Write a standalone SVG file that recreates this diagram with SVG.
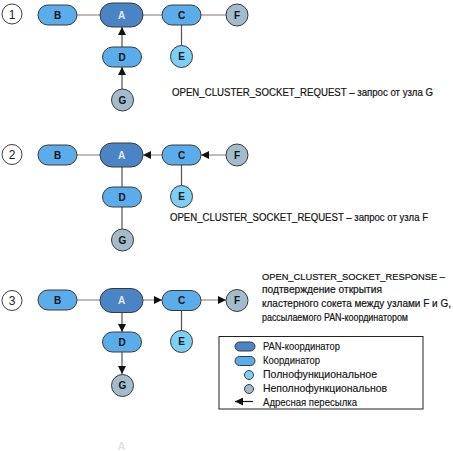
<svg xmlns="http://www.w3.org/2000/svg" width="453" height="451" viewBox="0 0 453 451">
<style>
.pan{fill:#4a84c4;stroke:#3a3a3a;stroke-width:1}
.crd{fill:#5aacea;stroke:#3a3a3a;stroke-width:1}
.ffd{fill:#7dd0f5;stroke:#3a3a3a;stroke-width:1}
.rfd{fill:#a2bccb;stroke:#3a3a3a;stroke-width:1}
.num{fill:#fff;stroke:#4a3a3a;stroke-width:1}
.lbl{font-family:"Liberation Sans",Arial,sans-serif;font-size:10px;font-weight:bold;fill:#141414;text-anchor:middle}
.lblw{font-family:"Liberation Sans",Arial,sans-serif;font-size:10px;font-weight:bold;fill:#e6e6f0;text-anchor:middle}
.nt{font-family:"Liberation Sans",Arial,sans-serif;font-size:12px;fill:#222;text-anchor:middle}
.txt{font-family:"Liberation Sans",Arial,sans-serif;font-size:10px;fill:#141414;stroke:#141414;stroke-width:0.2}
.lg{font-family:"Liberation Sans",Arial,sans-serif;font-size:11px;fill:#141414;stroke:#141414;stroke-width:0.15}
.h{stroke:#9a8a8a;stroke-width:1.2;fill:none}
.v{stroke:#5e4c4c;stroke-width:1.2;fill:none}
.arr{marker-end:url(#ah)}
</style>
<defs>
<marker id="ah" markerUnits="userSpaceOnUse" markerWidth="8" markerHeight="8" refX="8" refY="4" orient="auto" viewBox="0 0 8 8">
<path d="M0,0 L8,4 L0,8 z" fill="#111"/>
</marker>
</defs>

<g id="connectors">
<!-- panel 1 -->
<line class="h" x1="77" y1="15" x2="100" y2="15"/>
<line class="h" x1="143" y1="15" x2="162" y2="15"/>
<line class="h" x1="201" y1="15" x2="226" y2="15"/>
<line class="v" x1="181.5" y1="25" x2="181.5" y2="45.5"/>
<line class="v arr" x1="122" y1="47" x2="122" y2="27"/>
<line class="v arr" x1="122" y1="89" x2="122" y2="67"/>
<!-- panel 2 -->
<line class="h" x1="77" y1="155" x2="100" y2="155"/>
<line class="h arr" x1="162" y1="155" x2="143" y2="155"/>
<line class="h arr" x1="226" y1="155" x2="201" y2="155"/>
<line class="v" x1="181.5" y1="165" x2="181.5" y2="185.5"/>
<line class="v" x1="122" y1="167" x2="122" y2="187"/>
<line class="v" x1="122" y1="207" x2="122" y2="229"/>
<!-- panel 3 -->
<line class="h" x1="77" y1="300" x2="100" y2="300"/>
<line class="h arr" x1="143" y1="300" x2="162" y2="300"/>
<line class="h arr" x1="201" y1="300" x2="226" y2="300"/>
<line class="v" x1="181.5" y1="310" x2="181.5" y2="330.5"/>
<line class="v arr" x1="122" y1="312" x2="122" y2="332"/>
<line class="v arr" x1="122" y1="352" x2="122" y2="374"/>
</g>

<!-- panel 1 -->
<g id="n1"><circle class="num" cx="12" cy="14" r="10"/><text class="nt" x="12" y="18.5">1</text></g>
<g id="p1-B"><rect class="crd" x="38" y="5" width="39" height="20" rx="10"/><text class="lbl" x="57.5" y="18.6">B</text></g>
<g id="p1-A"><rect class="pan" x="100" y="3" width="43" height="24" rx="12"/><text class="lblw" x="121.5" y="18.6">A</text></g>
<g id="p1-C"><rect class="crd" x="162" y="5" width="39" height="20" rx="10"/><text class="lbl" x="181.5" y="18.6">C</text></g>
<g id="p1-F"><circle class="rfd" cx="237" cy="15" r="11"/><text class="lbl" x="237" y="18.6">F</text></g>
<g id="p1-E"><circle class="ffd" cx="181.5" cy="56.5" r="11"/><text class="lbl" x="181.5" y="60.1">E</text></g>
<g id="p1-D"><rect class="crd" x="102.5" y="47" width="39" height="20" rx="10"/><text class="lbl" x="122" y="60.6">D</text></g>
<g id="p1-G"><circle class="rfd" cx="122.5" cy="100" r="11"/><text class="lbl" x="122.5" y="103.6">G</text></g>
<text class="txt" x="172" y="96" textLength="261" lengthAdjust="spacingAndGlyphs">OPEN_CLUSTER_SOCKET_REQUEST – запрос от узла G</text>

<!-- panel 2 -->
<g id="n2"><circle class="num" cx="12" cy="154.5" r="10"/><text class="nt" x="12" y="159">2</text></g>
<g id="p2-B"><rect class="crd" x="38" y="145" width="39" height="20" rx="10"/><text class="lbl" x="57.5" y="158.6">B</text></g>
<g id="p2-A"><rect class="pan" x="100" y="143" width="43" height="24" rx="12"/><text class="lblw" x="121.5" y="158.6">A</text></g>
<g id="p2-C"><rect class="crd" x="162" y="145" width="39" height="20" rx="10"/><text class="lbl" x="181.5" y="158.6">C</text></g>
<g id="p2-F"><circle class="rfd" cx="237" cy="155" r="11"/><text class="lbl" x="237" y="158.6">F</text></g>
<g id="p2-E"><circle class="ffd" cx="181.5" cy="196.5" r="11"/><text class="lbl" x="181.5" y="200.1">E</text></g>
<g id="p2-D"><rect class="crd" x="102.5" y="187" width="39" height="20" rx="10"/><text class="lbl" x="122" y="200.6">D</text></g>
<g id="p2-G"><circle class="rfd" cx="122.5" cy="240" r="11"/><text class="lbl" x="122.5" y="243.6">G</text></g>
<text class="txt" x="170" y="221" textLength="258" lengthAdjust="spacingAndGlyphs">OPEN_CLUSTER_SOCKET_REQUEST – запрос от узла F</text>

<!-- panel 3 -->
<g id="n3"><circle class="num" cx="12" cy="300.5" r="10"/><text class="nt" x="12" y="305">3</text></g>
<g id="p3-B"><rect class="crd" x="38" y="290" width="39" height="20" rx="10"/><text class="lbl" x="57.5" y="303.6">B</text></g>
<g id="p3-A"><rect class="pan" x="100" y="288.5" width="43" height="24" rx="12"/><text class="lblw" x="121.5" y="304.1">A</text></g>
<g id="p3-C"><rect class="crd" x="162" y="290.5" width="39" height="20" rx="10"/><text class="lbl" x="181.5" y="304.1">C</text></g>
<g id="p3-F"><circle class="rfd" cx="237" cy="300.5" r="11"/><text class="lbl" x="237" y="304.1">F</text></g>
<g id="p3-E"><circle class="ffd" cx="181.5" cy="341.5" r="11"/><text class="lbl" x="181.5" y="345.1">E</text></g>
<g id="p3-D"><rect class="crd" x="102.5" y="332" width="39" height="20" rx="10"/><text class="lbl" x="122" y="345.6">D</text></g>
<g id="p3-G"><circle class="rfd" cx="122.5" cy="385.5" r="11"/><text class="lbl" x="122.5" y="389.1">G</text></g>
<text class="txt" x="262" y="279.5" font-size="9.3" style="font-size:9.3px" textLength="183" lengthAdjust="spacingAndGlyphs">OPEN_CLUSTER_SOCKET_RESPONSE –</text>
<text class="txt" x="262" y="293.3" textLength="120" lengthAdjust="spacingAndGlyphs">подтверждение открытия</text>
<text class="txt" x="262" y="307.1" textLength="189" lengthAdjust="spacingAndGlyphs">кластерного сокета между узлами F и G,</text>
<text class="txt" x="262" y="320.9" textLength="146" lengthAdjust="spacingAndGlyphs">рассылаемого PAN-координатором</text>

<!-- legend -->
<g id="legend">
<rect x="219" y="336.5" width="204" height="72.5" fill="#fff" stroke="#222" stroke-width="1"/>
<rect class="pan" x="235" y="342" width="20" height="9" rx="4.5"/>
<rect class="crd" x="235" y="356.5" width="20" height="9" rx="4.5"/>
<circle class="ffd" cx="249" cy="375" r="4.5"/>
<circle class="rfd" cx="249" cy="389" r="4.5"/>
<line x1="253" y1="401.5" x2="235" y2="401.5" stroke="#111" stroke-width="1.2" marker-end="url(#ah)"/>
<text class="lg" x="263" y="349.5" textLength="77" lengthAdjust="spacingAndGlyphs">PAN-координатор</text>
<text class="lg" x="263" y="363.7" textLength="57" lengthAdjust="spacingAndGlyphs">Координатор</text>
<text class="lg" x="263" y="377.9" textLength="114" lengthAdjust="spacingAndGlyphs">Полнофункциональное</text>
<text class="lg" x="263" y="392.1" textLength="124" lengthAdjust="spacingAndGlyphs">Неполнофункциональнов</text>
<text class="lg" x="263" y="406.3" textLength="94" lengthAdjust="spacingAndGlyphs">Адресная пересылка</text>
</g>

<text x="121.5" y="450" font-family="Liberation Sans, Arial, sans-serif" font-size="11" font-weight="bold" fill="#e2dfe9" text-anchor="middle">A</text>
</svg>
